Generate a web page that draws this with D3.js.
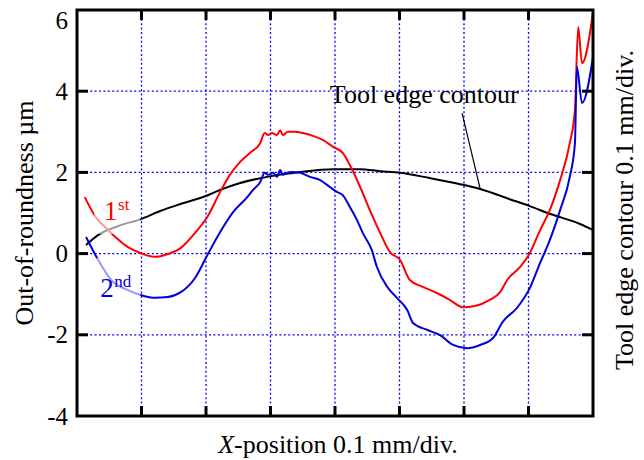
<!DOCTYPE html>
<html>
<head>
<meta charset="utf-8">
<script src="https://cdn.jsdelivr.net/npm/d3@7/dist/d3.min.js"></script>
<style>
  html, body { margin: 0; padding: 0; background: #fff; }
  svg { display: block; font-family: "Liberation Serif", "Times New Roman", serif; }
</style>
</head>
<body>
<svg id="chart" width="644" height="460"></svg>
<script>
// X position in divisions (0.1 mm/div), out-of-roundness in µm
const firstX  = [0.12,0.29,0.43,0.56,0.79,0.99,1.21,1.41,1.61,1.83,2.02,2.22,2.37,2.53,2.68,2.84,2.91,2.96,3.02,3.10,3.15,3.19,3.27,3.38,3.50,3.66,3.81,3.97,4.12,4.23,4.39,4.54,4.70,4.85,5.01,5.16,5.36,5.58,5.78,5.98,6.17,6.40,6.56,6.67,6.87,7.02,7.18,7.33,7.49,7.64,7.72,7.77,7.83,8.00];
const firstY  = [1.39,0.90,0.66,0.46,0.16,0.01,-0.08,-0.01,0.14,0.51,0.90,1.52,1.94,2.26,2.48,2.72,2.97,2.92,2.97,2.92,3.04,2.92,3.00,3.00,2.97,2.90,2.80,2.63,2.48,2.18,1.64,1.07,0.51,0.04,-0.16,-0.65,-0.82,-0.97,-1.14,-1.32,-1.29,-1.14,-0.95,-0.65,-0.33,0.01,0.58,1.07,1.81,2.72,3.54,5.58,4.69,5.93];

const secondX = [0.14,0.33,0.53,0.79,0.99,1.21,1.41,1.61,1.83,2.03,2.22,2.42,2.64,2.73,2.84,2.91,2.96,3.04,3.10,3.15,3.19,3.26,3.33,3.46,3.61,3.77,3.92,4.03,4.12,4.23,4.34,4.43,4.57,4.65,4.81,4.96,5.12,5.21,5.43,5.63,5.83,6.05,6.25,6.45,6.60,6.82,7.02,7.18,7.33,7.49,7.64,7.72,7.75,7.83,8.00];
const secondY = [0.41,-0.16,-0.65,-0.90,-1.02,-1.09,-1.07,-0.95,-0.60,-0.01,0.53,1.02,1.39,1.57,1.76,1.99,1.94,1.99,1.89,2.06,1.94,1.99,2.01,1.99,1.89,1.81,1.64,1.52,1.44,1.15,0.83,0.51,0.09,-0.33,-0.82,-1.09,-1.39,-1.71,-1.88,-2.01,-2.25,-2.33,-2.25,-2.08,-1.68,-1.34,-0.85,-0.23,0.33,1.07,1.89,2.72,4.60,3.71,4.84];

// Tool edge contour, drawn on the same grid
const toolX = [0.14,0.33,0.64,0.99,1.29,1.60,2.00,2.22,2.53,2.95,3.46,3.97,4.39,4.70,5.01,5.47,5.94,6.25,6.71,7.02,7.33,7.80,8.00];
const toolY = [0.21,0.46,0.68,0.85,1.05,1.22,1.42,1.57,1.74,1.89,2.01,2.08,2.08,2.03,1.99,1.86,1.71,1.59,1.34,1.17,0.98,0.73,0.58];

const yTicks = [-4, -2, 0, 2, 4, 6];
const yGrid  = [-2, 0, 2, 4];
const xGrid  = [1, 2, 3, 4, 5, 6, 7];

const svg = d3.select("#chart");
const L = 77, R = 593, T = 10, B = 416;

const x = d3.scaleLinear().domain([0, 8]).range([L, R]);
const y = d3.scaleLinear().domain([-4, 6]).range([B, T]);

// dotted grid
const grid = svg.append("g").attr("stroke", "#0000ff").attr("stroke-width", 1.3)
  .attr("stroke-dasharray", "2,2.4");
grid.selectAll("line.v").data(xGrid).join("line").attr("class", "v")
  .attr("x1", d => x(d)).attr("x2", d => x(d)).attr("y1", T).attr("y2", B);
grid.selectAll("line.h").data(yGrid).join("line").attr("class", "h")
  .attr("x1", L).attr("x2", R).attr("y1", d => y(d)).attr("y2", d => y(d));

// curves
const line = d3.line().x(d => x(d[0])).y(d => y(d[1])).curve(d3.curveMonotoneX);
svg.append("clipPath").attr("id", "plot").append("rect")
  .attr("x", L).attr("y", T).attr("width", R - L).attr("height", B - T);
const plot = svg.append("g").attr("clip-path", "url(#plot)");

plot.append("path").datum(d3.zip(toolX, toolY)).attr("d", line)
  .attr("fill", "none").attr("stroke", "#000").attr("stroke-width", 2);
plot.append("path").datum(d3.zip(firstX, firstY)).attr("d", line)
  .attr("fill", "none").attr("stroke", "#ff0000").attr("stroke-width", 2).attr("stroke-linejoin", "round");
plot.append("path").datum(d3.zip(secondX, secondY)).attr("d", line)
  .attr("fill", "none").attr("stroke", "#0000dd").attr("stroke-width", 2).attr("stroke-linejoin", "round");

// series labels (ordinal number + superscript) over a light backing
function seriesLabel(dx, dy, main, sup, color, box) {
  const px = x(dx), py = y(dy);
  svg.append("rect").attr("x", px + box[0]).attr("y", py + box[1])
    .attr("width", box[2]).attr("height", box[3]).attr("fill", "#fff").attr("opacity", 0.6);
  const m = svg.append("text").attr("x", px).attr("y", py).attr("fill", color)
    .attr("font-size", 27).text(main);
  const w = m.node().getComputedTextLength();
  svg.append("text").attr("x", px + w + 0.5).attr("y", py - 10).attr("fill", color)
    .attr("font-size", 17).text(sup);
}
seriesLabel(0.42, 0.83, "1", "st", "#ff0000", [-10, -7, 46, 21]);
seriesLabel(0.36, -1.07, "2", "nd", "#0000dd", [-4, -39, 44, 38]);

// annotation for the tool contour
const annX = [5.97, 6.25];
const annY = [3.46, 1.60];
svg.append("line").attr("x1", x(annX[0])).attr("y1", y(annY[0]))
  .attr("x2", x(annX[1])).attr("y2", y(annY[1])).attr("stroke", "#000").attr("stroke-width", 1.2);
svg.append("text").attr("x", x(3.92)).attr("y", y(3.71)).attr("font-size", 26)
  .attr("fill", "#000").text("Tool edge contour");

// frame and ticks
const ax = svg.append("g").attr("stroke", "#000").attr("stroke-width", 3);
ax.append("rect").attr("x", L).attr("y", T).attr("width", R - L).attr("height", B - T).attr("fill", "none");
ax.selectAll("line.bt").data(xGrid).join("line").attr("class", "bt")
  .attr("x1", d => x(d)).attr("x2", d => x(d)).attr("y1", B).attr("y2", B - 10);
ax.selectAll("line.tt").data(xGrid).join("line").attr("class", "tt")
  .attr("x1", d => x(d)).attr("x2", d => x(d)).attr("y1", T).attr("y2", T + 10);
ax.selectAll("line.lt").data(yGrid).join("line").attr("class", "lt")
  .attr("x1", L).attr("x2", L + 11).attr("y1", d => y(d)).attr("y2", d => y(d));
ax.selectAll("line.rt").data(yGrid).join("line").attr("class", "rt")
  .attr("x1", R).attr("x2", R - 11).attr("y1", d => y(d)).attr("y2", d => y(d));

// y tick labels
svg.selectAll("text.yt").data(yTicks).join("text").attr("class", "yt")
  .attr("x", L - 9).attr("y", d => Math.max(y(d), 20)).attr("dy", "0.34em")
  .attr("text-anchor", "end").attr("font-size", 25).attr("fill", "#000")
  .text(d => d);

// axis titles
const xt = svg.append("text").attr("x", 338).attr("y", 453).attr("text-anchor", "middle")
  .attr("font-size", 26).attr("fill", "#000");
xt.append("tspan").attr("font-style", "italic").text("X");
xt.append("tspan").text("-position 0.1 mm/div.");

svg.append("text").attr("transform", "translate(33,213) rotate(-90)")
  .attr("text-anchor", "middle").attr("font-size", 26).attr("fill", "#000")
  .text("Out-of-roundness µm");

svg.append("text").attr("transform", "translate(633,210) rotate(-90)")
  .attr("text-anchor", "middle").attr("font-size", 26).attr("fill", "#000")
  .text("Tool edge contour 0.1 mm/div.");
</script>
</body>
</html>
